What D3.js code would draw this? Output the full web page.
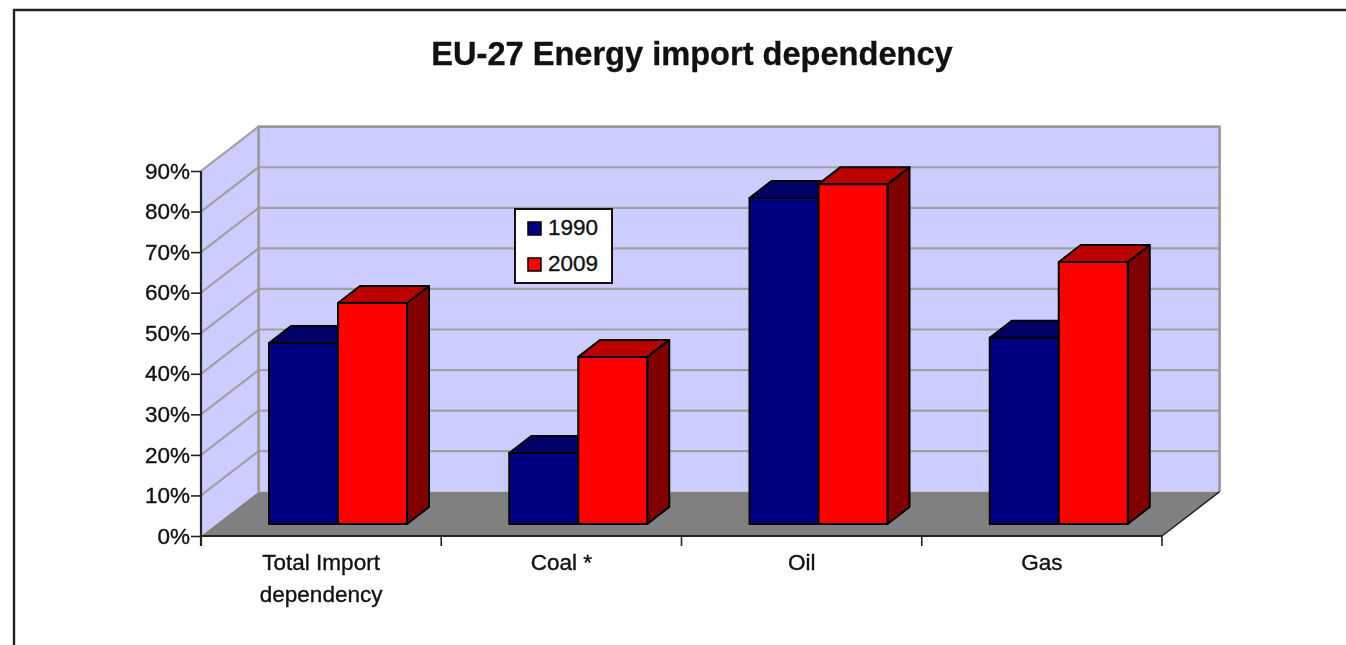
<!DOCTYPE html>
<html>
<head>
<meta charset="utf-8">
<script src="https://cdnjs.cloudflare.com/ajax/libs/d3/7.9.0/d3.min.js"></script>
<style>
html,body{margin:0;padding:0;background:#fff;overflow:hidden}
svg{display:block;filter:blur(0.6px)}
text{font-family:"Liberation Sans",Arial,sans-serif;fill:#111;stroke:#111;stroke-width:0.35px}
</style>
</head>
<body>
<svg id="c" width="1346" height="645"></svg>
<script>
const titleText = "EU-27 Energy import dependency";
const categories = ["Total Import dependency", "Coal *", "Oil", "Gas"];
const categoryLines = [["Total Import", "dependency"], ["Coal *"], ["Oil"], ["Gas"]];
const seriesNames = ["1990", "2009"];
const values1990 = [44.6, 17.5, 80.4, 45.9];
const values2009 = [54.5, 41.2, 83.8, 64.6];
const yTicks = [0, 10, 20, 30, 40, 50, 60, 70, 80, 90];
const frontColors = ["#000080", "#ff0000"];
const topColors = ["#000066", "#bb0000"];
const sideColors = ["#000050", "#800000"];

const svg = d3.select("#c");
const x = d3.scaleBand().domain(categories).range([201, 1162]);
const y = d3.scaleLinear().domain([0, 90]).range([536, 171]);
const wallDx = 57.6, wallDy = -44.3;
const barInset = 68, barW = 69, barLift = 12, barDx = 22, barDy = -17;
const poly = pts => pts.map(p => p.join(",")).join(" ");
const [x0, x1] = x.range();

// outer frame
svg.append("path").attr("d", "M14,645V10H1346").attr("fill", "none").attr("stroke", "#222").attr("stroke-width", 2.4);

svg.append("text").attr("x", 692).attr("y", 65).attr("text-anchor", "middle")
  .attr("font-size", 32.6).attr("font-weight", "bold").text(titleText);

// walls
const yTop = y(90);
svg.append("polygon").attr("fill", "#ccccff")
  .attr("points", poly([[x0 + wallDx, y(0) + wallDy], [x1 + wallDx, y(0) + wallDy], [x1 + wallDx, yTop + wallDy], [x0 + wallDx, yTop + wallDy]]));
svg.append("polygon").attr("fill", "#ccccff")
  .attr("points", poly([[x0, y(0)], [x0 + wallDx, y(0) + wallDy], [x0 + wallDx, yTop + wallDy], [x0, yTop]]));

// gridlines
svg.append("g").selectAll("path").data(yTicks.filter(d => d > 0)).join("path")
  .attr("fill", "none").attr("stroke", "#a0a0a0").attr("stroke-width", 2.2)
  .attr("d", d => `M${x0},${y(d)}L${x0 + wallDx},${y(d) + wallDy}H${x1 + wallDx}`);
svg.append("path").attr("fill", "none").attr("stroke", "#999").attr("stroke-width", 2.6)
  .attr("d", `M${x0 + wallDx},${y(0) + wallDy}V${yTop + wallDy}H${x1 + wallDx}V${y(0) + wallDy}`);

// floor
svg.append("polygon").attr("fill", "#808080")
  .attr("points", poly([[x0, y(0)], [x0 + wallDx, y(0) + wallDy], [x1 + wallDx, y(0) + wallDy], [x1, y(0)]]));
svg.append("line").attr("x1", x1).attr("y1", y(0)).attr("x2", x1 + wallDx).attr("y2", y(0) + wallDy)
  .attr("stroke", "#222").attr("stroke-width", 1.5);

// bars
const barBase = y(0) - barLift;
[values1990, values2009].forEach((vals, s) => {
  const g = svg.append("g");
  vals.forEach((v, i) => {
    const l = x(categories[i]) + barInset + s * barW, r = l + barW;
    const t = barBase - (y(0) - y(v));
    const st = { stroke: "#000", "stroke-width": 2, "stroke-linejoin": "round" };
    const add = (pts, fill) => {
      const p = g.append("polygon").attr("points", poly(pts)).attr("fill", fill);
      Object.entries(st).forEach(([k, val]) => p.attr(k, val));
    };
    add([[r, barBase], [r + barDx, barBase + barDy], [r + barDx, t + barDy], [r, t]], sideColors[s]);
    add([[l, t], [l + barDx, t + barDy], [r + barDx, t + barDy], [r, t]], topColors[s]);
    add([[l, barBase], [r, barBase], [r, t], [l, t]], frontColors[s]);
  });
});

// axes
const yAxis = d3.axisLeft(y).tickValues(yTicks).tickFormat(d => d + "%").tickSize(10).tickPadding(1);
const gy = svg.append("g").attr("transform", `translate(${x0},0)`).call(yAxis);
gy.select(".domain").attr("stroke", "#222").attr("stroke-width", 2.2).attr("d", `M0,${yTop}V${y(0) + 10}`);
gy.selectAll(".tick line").attr("stroke", "#222").attr("stroke-width", 1.6);
gy.selectAll(".tick text").attr("font-size", 22.5).attr("font-family", null).attr("fill", null);

const gx = svg.append("g");
gx.append("line").attr("x1", x0).attr("x2", x1).attr("y1", y(0)).attr("y2", y(0)).attr("stroke", "#222").attr("stroke-width", 2.2);
gx.selectAll("line.t").data([...categories.map(c => x(c)), x1]).join("line").attr("class", "t")
  .attr("x1", d => d).attr("x2", d => d).attr("y1", y(0)).attr("y2", y(0) + 10)
  .attr("stroke", "#222").attr("stroke-width", 1.6);
categories.forEach((c, i) => {
  categoryLines[i].forEach((line, j) => {
    gx.append("text").attr("x", x(c) + x.bandwidth() / 2).attr("y", 570 + j * 32)
      .attr("text-anchor", "middle").attr("font-size", 22.5).text(line);
  });
});

// legend
const lg = svg.append("g").attr("transform", "translate(515,209)");
lg.append("rect").attr("width", 97).attr("height", 74).attr("fill", "#fff").attr("stroke", "#111").attr("stroke-width", 2);
seriesNames.forEach((n, i) => {
  lg.append("rect").attr("x", 13).attr("y", 13 + i * 36).attr("width", 13).attr("height", 13)
    .attr("fill", frontColors[i]).attr("stroke", "#000").attr("stroke-width", 1.5);
  lg.append("text").attr("x", 33).attr("y", 26 + i * 36).attr("font-size", 22.5).text(n);
});
</script>
</body>
</html>
